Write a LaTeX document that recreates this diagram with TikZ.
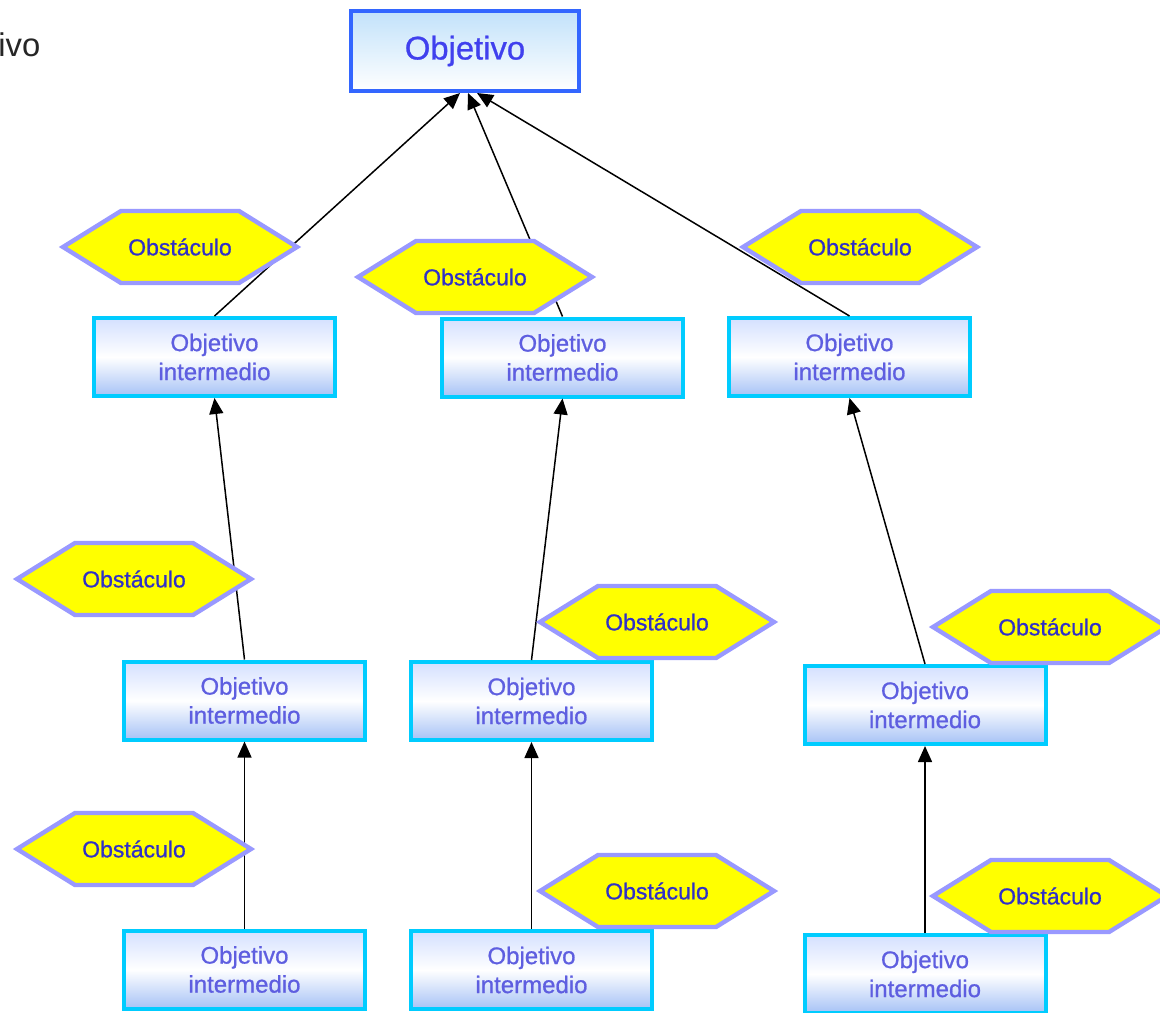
\documentclass[tikz,border=0pt]{standalone}
\usepackage{fontspec}
\setmainfont{Liberation Sans}
\newfontfamily\heavysans[FakeBold=0.8]{Liberation Sans}
\usetikzlibrary{arrows.meta}
\definecolor{topborder}{HTML}{3366FF}
\definecolor{midborder}{HTML}{00CCFF}
\definecolor{hexborder}{HTML}{9999FF}
\definecolor{hexfill}{HTML}{FFFF00}
\definecolor{toptext}{HTML}{4040EE}
\definecolor{midtext}{HTML}{5E5EE0}
\definecolor{hextext}{HTML}{3030C8}
\definecolor{goaltop}{HTML}{C2E2FA}
\definecolor{midtop}{HTML}{D4E0FF}
\definecolor{midbot}{HTML}{A6C2F6}
\newcommand{\obstacle}[3]{%
  \draw[hexshape] ({#2-117},#3) -- ({#2-59},{#3-36}) -- ({#2+59},{#3-36}) -- ({#2+117},#3) -- ({#2+59},{#3+36}) -- ({#2-59},{#3+36}) -- cycle;
  \node[hexlabel] (#1) at (#2,#3) {Obstáculo};}
\tikzset{
  goalbox/.style={draw=topborder, line width=2pt, top color=goaltop, bottom color=white,
    minimum width=114pt, minimum height=40pt, font=\heavysans\fontsize{16.4}{19}\selectfont,
    text=toptext, inner sep=0pt},
  midbox/.style={draw=midborder, line width=2pt, top color=midtop, bottom color=midbot, middle color=white,
    minimum width=120.5pt, minimum height=39pt, font=\heavysans\fontsize{12}{14.5}\selectfont,
    text=midtext, align=center, inner sep=0pt},
  hexshape/.style={draw=hexborder, fill=hexfill, line width=2.2pt, line join=miter},
  hexlabel/.style={font=\heavysans\fontsize{11.5}{14}\selectfont, text=hextext, inner sep=0pt},
  link/.style={line width=0.75pt, -{Triangle[length=8pt,width=7pt]}}
}
\begin{document}
\begin{tikzpicture}[x=0.5pt,y=-0.5pt]
\useasboundingbox (0,0) rectangle (1160,1012);
\node[anchor=west, inner sep=0pt, font=\fontsize{16.4}{19}\selectfont, text=black!85] (cut) at (-2,45) {ivo};
\node[goalbox] (top) at (465,51) {Objetivo};
% row 1
\node[midbox] (a1) at (214.5,357) {Objetivo\\intermedio};
\node[midbox] (b1) at (562.5,357.5) {Objetivo\\intermedio};
\node[midbox] (c1) at (849.5,357) {Objetivo\\intermedio};
% row 2
\node[midbox] (a2) at (244.5,700.5) {Objetivo\\intermedio};
\node[midbox] (b2) at (531.5,701) {Objetivo\\intermedio};
\node[midbox] (c2) at (925,705) {Objetivo\\intermedio};
% row 3
\node[midbox] (a3) at (244.5,969.5) {Objetivo\\intermedio};
\node[midbox] (b3) at (531.5,970) {Objetivo\\intermedio};
\node[midbox] (c3) at (925,974) {Objetivo\\intermedio};
% connectors
\draw[link] (a1.north) -- ([xshift=-2.5pt]top.south);
\draw[link] (b1.north) -- ([xshift=1.5pt]top.south);
\draw[link] (c1.north) -- ([xshift=6pt]top.south);
\draw[link] (a2.north) -- (a1.south);
\draw[link] (b2.north) -- (b1.south);
\draw[link] (c2.north) -- (c1.south);
\draw[link] (a3.north) -- (a2.south);
\draw[link] (b3.north) -- (b2.south);
\draw[link] (c3.north) -- (c2.south);
% obstacles
\obstacle{o1}{180}{247}
\obstacle{o2}{475}{277}
\obstacle{o3}{860}{247}
\obstacle{o4}{134}{579}
\obstacle{o5}{657}{622}
\obstacle{o6}{1050}{627}
\obstacle{o7}{134}{849}
\obstacle{o8}{657}{891}
\obstacle{o9}{1050}{896}
\end{tikzpicture}
\end{document}
